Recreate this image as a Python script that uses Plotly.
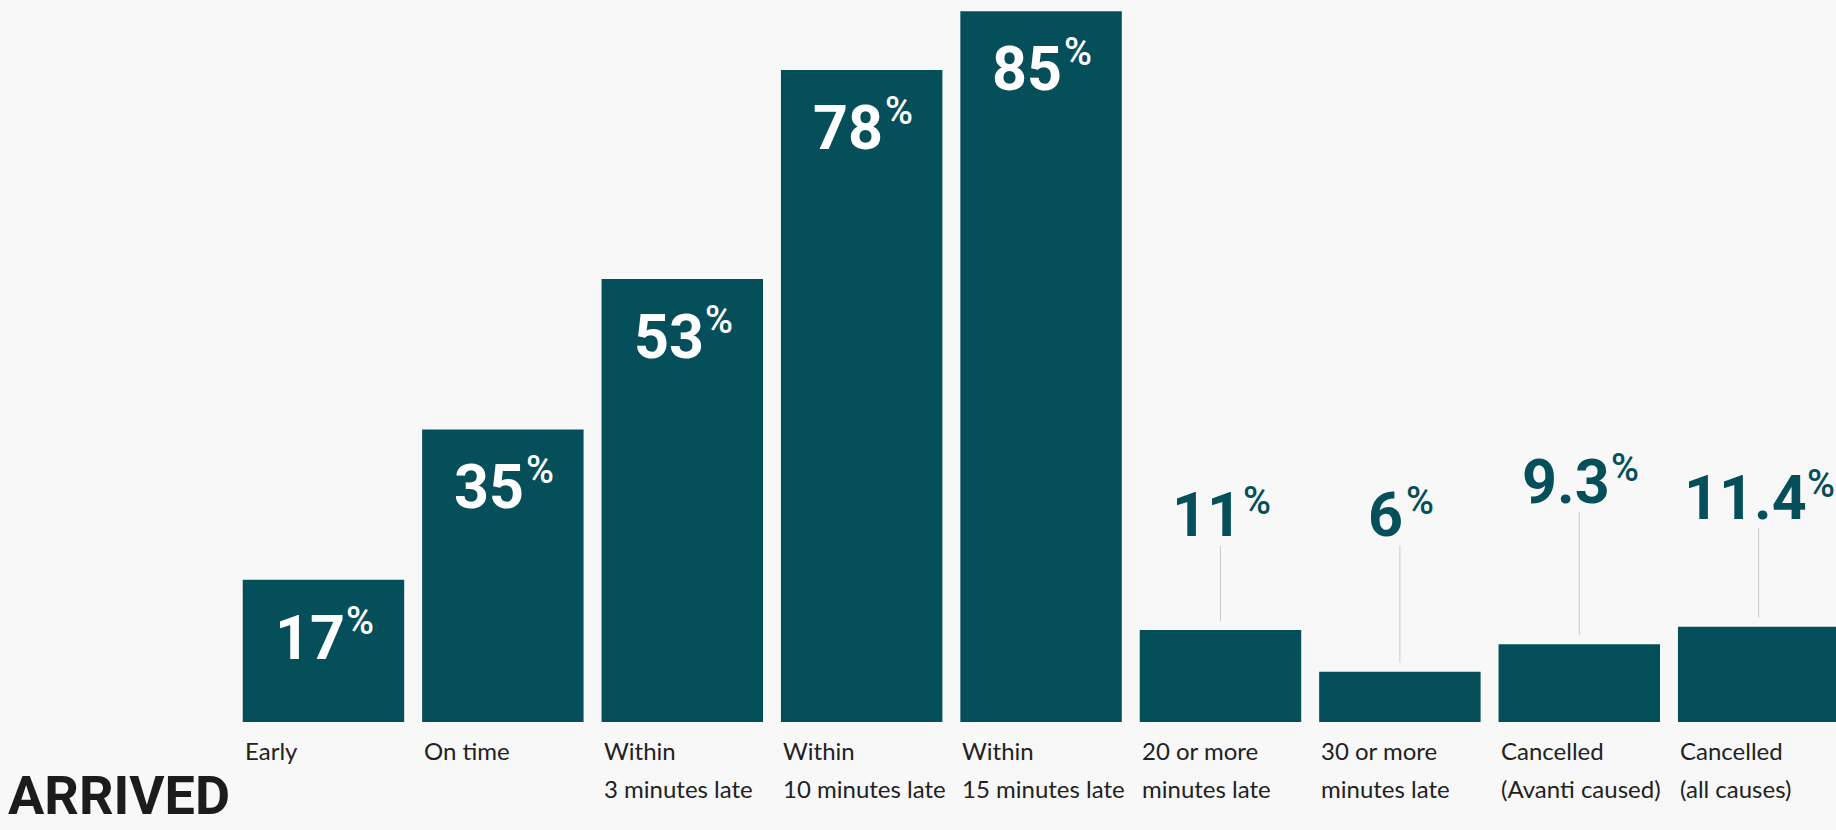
import plotly.graph_objects as go

categories = ["Early", "On time", "Within<br>3 minutes late", "Within<br>10 minutes late",
              "Within<br>15 minutes late", "20 or more<br>minutes late", "30 or more<br>minutes late",
              "Cancelled<br>(Avanti caused)", "Cancelled<br>(all causes)"]
values = [17, 35, 53, 78, 85, 11, 6, 9.3, 11.4]
value_labels = ["17", "35", "53", "78", "85", "11", "6", "9.3", "11.4"]
inside = [True, True, True, True, True, False, False, False, False]
# height (in % units) of the baseline of outside callout numbers
callout_y = [None, None, None, None, None, 22.1, 22.1, 26.1, 24.2]

BAR = "#044f5a"
BG = "#f8f8f8"
NUM_FONT = "Roboto, sans-serif"
LBL_FONT = "Lato, sans-serif"
NUM_SIZE = 61
PCT_SIZE = 38
# approximate Roboto Bold advance widths (em)
ADV = {".": 0.282}
DIGIT_ADV = 0.5615
PCT_ADV = 0.7285
GAP = 3


def text_w(s):
    return sum(ADV.get(c, DIGIT_ADV) for c in s) * NUM_SIZE


x = list(range(len(categories)))

fig = go.Figure(go.Bar(x=x, y=values, marker=dict(color=BAR, line=dict(width=0)),
                       hoverinfo="skip"))

annotations = []
shapes = []
for i, (v, lab, ins, cy, cat) in enumerate(zip(values, value_labels, inside, callout_y, categories)):
    nw = text_w(lab)
    pw = PCT_ADV * PCT_SIZE
    left = -(nw + GAP + pw) / 2
    color = "white" if ins else BAR
    if ins:
        ny, nanchor, nshift = v, "top", -20
        py, panchor, pshift = v, "top", -17
    else:
        ny, nanchor, nshift = cy, "bottom", -16
        py, panchor, pshift = cy, "top", 60
        shapes.append(dict(type="line", xref="x", yref="y", x0=i, x1=i,
                           y0=v + 1.1, y1=cy - 1.0,
                           line=dict(color="#c8c8c8", width=1)))
    annotations.append(dict(x=i, y=ny, xref="x", yref="y", text=lab, showarrow=False,
                            xanchor="left", yanchor=nanchor, xshift=left - 1, yshift=nshift,
                            font=dict(family=NUM_FONT, size=NUM_SIZE, color=color, weight=700)))
    annotations.append(dict(x=i, y=py, xref="x", yref="y", text="%", showarrow=False,
                            xanchor="left", yanchor=panchor, xshift=left + nw + GAP - 1, yshift=pshift,
                            font=dict(family=NUM_FONT, size=PCT_SIZE, color=color, weight=500)))
    for k, line in enumerate(cat.split("<br>")):
        annotations.append(dict(x=i - 0.45, y=0, xref="x", yref="y", text=line, showarrow=False,
                                xanchor="left", yanchor="top", align="left", yshift=-12 - 38 * k,
                                font=dict(family=LBL_FONT, size=24, color="#222222")))

annotations.append(dict(x=0, y=0, xref="paper", yref="paper", text="ARRIVED",
                        showarrow=False, xanchor="left", yanchor="top", xshift=6, yshift=-40,
                        font=dict(family=NUM_FONT, size=54, color="#1c1c1c", weight=700)))

fig.update_layout(
    width=1836, height=830,
    margin=dict(l=0, r=0, t=0, b=108),
    paper_bgcolor=BG, plot_bgcolor=BG,
    bargap=0.1,
    showlegend=False,
    xaxis=dict(range=[-1.803, 8.431], visible=False, fixedrange=True),
    yaxis=dict(range=[0, 86.36], visible=False, fixedrange=True),
    annotations=annotations,
    shapes=shapes,
)

fig.write_html("out.html", post_script="document.body.style.margin='0';document.body.style.background='#f8f8f8';",
               config={"displayModeBar": False})
